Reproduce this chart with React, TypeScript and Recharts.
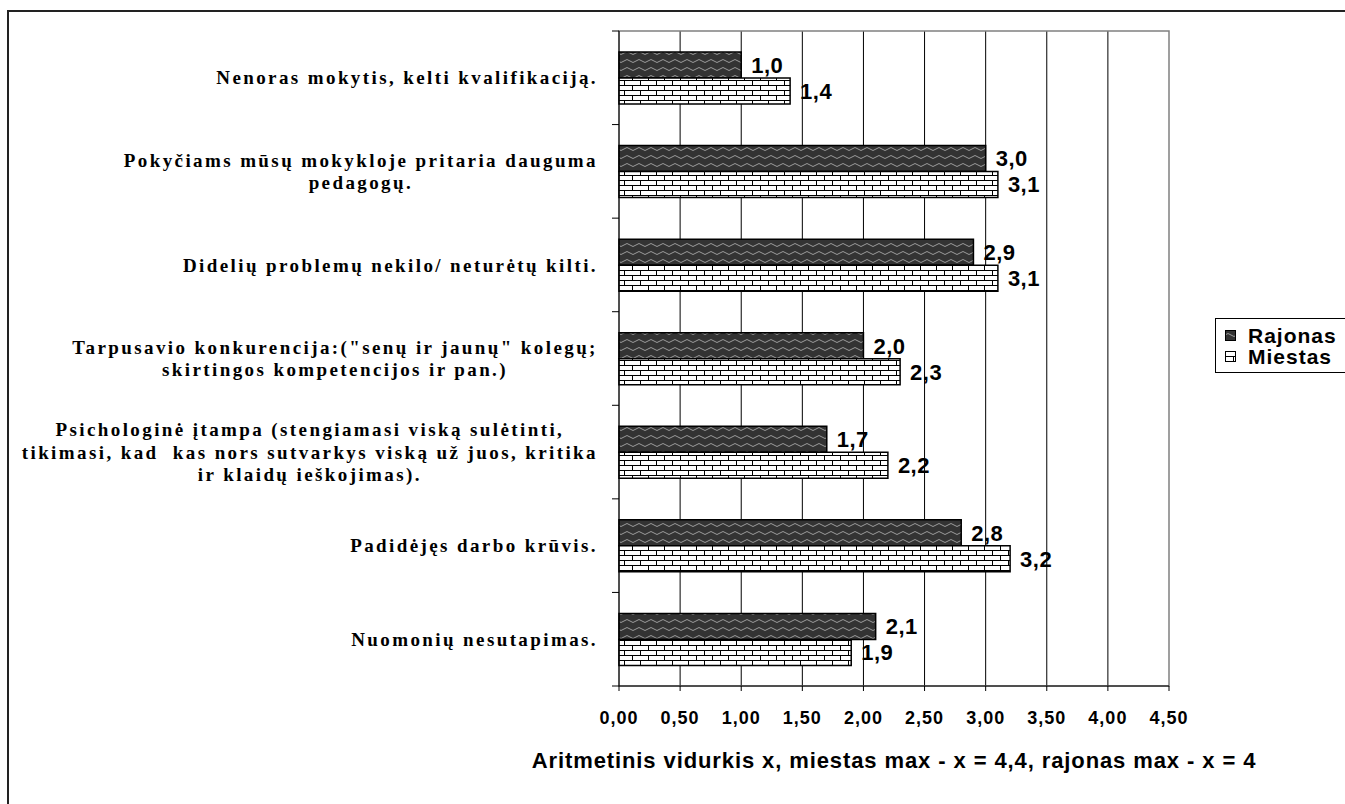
import React from 'react';
import { BarChart, Bar, XAxis, YAxis, CartesianGrid, LabelList, Legend, ReferenceArea } from 'recharts';

const categories = [
  'Nenoras mokytis, kelti kvalifikaciją.',
  'Pokyčiams mūsų mokykloje pritaria dauguma\npedagogų.',
  'Didelių problemų nekilo/ neturėtų kilti.',
  'Tarpusavio konkurencija:("senų ir jaunų" kolegų;\nskirtingos kompetencijos ir pan.)',
  'Psichologinė įtampa (stengiamasi viską sulėtinti,\ntikimasi, kad  kas nors sutvarkys viską už juos, kritika\nir klaidų ieškojimas).',
  'Padidėjęs darbo krūvis.',
  'Nuomonių nesutapimas.',
];
const rajonas = [1.0, 3.0, 2.9, 2.0, 1.7, 2.8, 2.1];
const miestas = [1.4, 3.1, 3.1, 2.3, 2.2, 3.2, 1.9];
const xTicks = [0, 0.5, 1, 1.5, 2, 2.5, 3, 3.5, 4, 4.5];
const seriesNames = ['Rajonas', 'Miestas'];
const axisTitle = 'Aritmetinis vidurkis x, miestas max - x = 4,4, rajonas max - x = 4';

const data = categories.map((c, i) => ({ name: c, Rajonas: rajonas[i], Miestas: miestas[i] }));

const W = 1345;
const H = 804;
const MARGIN = { top: 31, right: 176, bottom: 0, left: 0 };
const YAXIS_W = 619;
const XAXIS_H = 118;
const PLOT_H = H - MARGIN.top - MARGIN.bottom - XAXIS_H;
const BAND = PLOT_H / categories.length;

const SERIF = '"Liberation Serif", "Times New Roman", serif';
const SANS = '"Liberation Sans", Arial, sans-serif';
const Y_FONT = 19;
const Y_LS = 2.4;

let ctx: CanvasRenderingContext2D | null = null;
function measure(text: string): number {
  if (!ctx) {
    const c = document.createElement('canvas');
    ctx = c.getContext('2d');
  }
  if (!ctx) return text.length * 10;
  ctx.font = `bold ${Y_FONT}px ${SERIF}`;
  return ctx.measureText(text).width + text.length * Y_LS;
}

const YTick = (props: any) => {
  const { x, y, payload } = props;
  const lines = String(payload.value).split('\n');
  const axisX = x + 8;
  const right = x - 13;
  const maxW = Math.max(...lines.map(measure));
  const cx = right - maxW / 2;
  const lh = 22.5;
  const startY = y - ((lines.length - 1) * lh) / 2;
  const isLast = payload.value === categories[categories.length - 1];
  return (
    <g>
      <line x1={axisX - 7} x2={axisX} y1={y - BAND / 2} y2={y - BAND / 2} stroke="#000" />
      {isLast && <line x1={axisX - 7} x2={axisX} y1={y + BAND / 2} y2={y + BAND / 2} stroke="#000" />}
      <text
        textAnchor="middle"
        fill="#000"
        style={{ fontFamily: SERIF, fontWeight: 'bold', fontSize: Y_FONT, letterSpacing: Y_LS, whiteSpace: 'pre' }}
        xmlSpace="preserve"
      >
        {lines.map((l, i) => (
          <tspan key={i} x={cx} y={startY + i * lh} dy="0.35em">
            {l}
          </tspan>
        ))}
      </text>
    </g>
  );
};

const fmt1 = (v: any) => Number(v).toFixed(1).replace('.', ',');
const fmt2 = (v: any) => Number(v).toFixed(2).replace('.', ',');

const patternIds = ['patWave', 'patBrick'];

const LegendBox = () => (
  <div
    style={{
      borderTop: '1px solid #000',
      borderLeft: '1px solid #000',
      borderBottom: '1px solid #000',
      background: '#fff',
      width: 160,
      height: 55,
      boxSizing: 'border-box',
      padding: '6px 0 0 9px',
      fontFamily: SANS,
      fontWeight: 'bold',
      fontSize: 21,
      letterSpacing: 1,
      color: '#000',
      lineHeight: '21px',
    }}
  >
    {seriesNames.map((n, i) => (
      <div key={n} style={{ display: 'flex', alignItems: 'center', height: 21, whiteSpace: 'nowrap' }}>
        <svg width={11} height={11} style={{ marginRight: 12, flex: 'none' }}>
          <rect x={0.5} y={0.5} width={10} height={10} fill={`url(#${patternIds[i]})`} stroke="#000" />
        </svg>
        {n}
      </div>
    ))}
  </div>
);

export default function App() {
  return (
    <div style={{ position: 'fixed', left: 0, top: 0, width: W, height: H, background: '#fff', overflow: 'hidden' }}>
      <svg width={0} height={0} style={{ position: 'absolute' }}>
        <defs>
          <pattern id="patWave" patternUnits="userSpaceOnUse" width={12} height={8}>
            <rect x={0} y={0} width={12} height={8} fill="#333333" />
            <path d="M0 5 Q3 2 6 5 T12 5" stroke="#9a9a9a" strokeWidth={1} fill="none" />
          </pattern>
          <pattern id="patBrick" patternUnits="userSpaceOnUse" width={16} height={10}>
            <rect x={0} y={0} width={16} height={10} fill="#ffffff" />
            <line x1={0} y1={0.5} x2={16} y2={0.5} stroke="#000" strokeWidth={1} />
            <line x1={0} y1={5.5} x2={16} y2={5.5} stroke="#000" strokeWidth={1} />
            <line x1={0.5} y1={0} x2={0.5} y2={5} stroke="#000" strokeWidth={1} />
            <line x1={8.5} y1={5} x2={8.5} y2={10} stroke="#000" strokeWidth={1} />
          </pattern>
        </defs>
      </svg>
      <div
        style={{
          position: 'absolute',
          left: 7,
          top: 10,
          width: 2000,
          height: 2000,
          borderTop: '2px solid #222',
          borderLeft: '2px solid #222',
          pointerEvents: 'none',
        }}
      />
      <div style={{ position: 'absolute', left: 0, top: 0 }}>
        <BarChart width={W} height={H} data={data} layout="vertical" margin={MARGIN} barSize={26} barGap={0}>
          <CartesianGrid horizontal={false} vertical={true} stroke="#000" verticalValues={xTicks.slice(1, -1)} />
          <ReferenceArea x1={0} x2={4.5} fill="none" stroke="#808080" strokeWidth={1.5} ifOverflow="visible" />
          <XAxis
            type="number"
            domain={[0, 4.5]}
            ticks={xTicks}
            interval={0}
            height={XAXIS_H}
            tickFormatter={fmt2}
            axisLine={{ stroke: '#000' }}
            tickLine={{ stroke: '#000' }}
            tickSize={5}
            tickMargin={20}
            tick={{ fill: '#000', fontFamily: SANS, fontWeight: 'bold', fontSize: 18, letterSpacing: 1 }}
            label={{
              value: axisTitle,
              position: 'insideTop',
              offset: 66,
              fill: '#000',
              style: { fontFamily: SANS, fontWeight: 'bold', fontSize: 22, letterSpacing: 0.9 },
            }}
          />
          <YAxis
            type="category"
            dataKey="name"
            width={YAXIS_W}
            interval={0}
            axisLine={{ stroke: '#000' }}
            tickLine={false}
            tickSize={6}
            tickMargin={2}
            tick={<YTick />}
          />
          <Legend
            layout="horizontal"
            verticalAlign="middle"
            align="center"
            content={<LegendBox />}
            wrapperStyle={{ position: 'absolute', left: 1215, top: 318, width: 160, height: 55 }}
          />
          <Bar dataKey="Rajonas" fill="url(#patWave)" stroke="#000" strokeWidth={1.5} isAnimationActive={false}>
            <LabelList
              dataKey="Rajonas"
              position="right"
              offset={10}
              formatter={fmt1}
              fill="#000"
              style={{ fontFamily: SANS, fontWeight: 'bold', fontSize: 22, letterSpacing: 0.5 }}
            />
          </Bar>
          <Bar dataKey="Miestas" fill="url(#patBrick)" stroke="#000" strokeWidth={1.5} isAnimationActive={false}>
            <LabelList
              dataKey="Miestas"
              position="right"
              offset={10}
              formatter={fmt1}
              fill="#000"
              style={{ fontFamily: SANS, fontWeight: 'bold', fontSize: 22, letterSpacing: 0.5 }}
            />
          </Bar>
        </BarChart>
      </div>
    </div>
  );
}
